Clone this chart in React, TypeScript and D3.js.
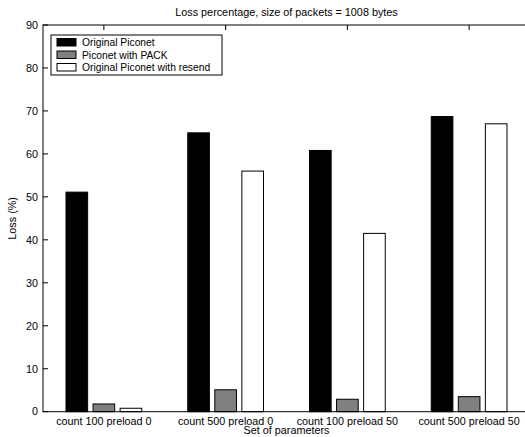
import React, { useEffect, useRef } from "react";
import * as d3 from "d3";

const categories = [
  "count 100 preload 0",
  "count 500 preload 0",
  "count 100 preload 50",
  "count 500 preload 50",
];
const seriesNames = [
  "Original Piconet",
  "Piconet with PACK",
  "Original Piconet with resend",
];
const seriesColors = ["#000000", "#808080", "#ffffff"];
const originalPiconet = [51.1, 64.9, 60.8, 68.7];
const piconetPack = [1.8, 5.1, 2.9, 3.5];
const piconetResend = [0.8, 56.0, 41.5, 67.0];
const yTicks = [0, 10, 20, 30, 40, 50, 60, 70, 80, 90];

const W = 525;
const H = 437;
const margin = { left: 43, top: 25, right: -5, bottom: 25 };

function App() {
  const svgRef = useRef<SVGSVGElement>(null);

  useEffect(() => {
    const svg = d3.select(svgRef.current);
    svg.selectAll("*").remove();
    const font = "Liberation Sans, Arial, sans-serif";
    const fs = 10.8;

    const x = d3
      .scaleLinear()
      .domain([0.5, 4.5])
      .range([margin.left, W - margin.right]);
    const y = d3
      .scaleLinear()
      .domain([0, 90])
      .range([H - margin.bottom - 0.3, margin.top]);

    const groupW = x(1 + 1 / 3) - x(1 - 1 / 3);
    const inner = d3
      .scaleBand<number>()
      .domain([0, 1, 2])
      .range([-groupW / 2, groupW / 2])
      .paddingInner(0.2)
      .paddingOuter(0.1);

    const series = [originalPiconet, piconetPack, piconetResend];

    // bars
    series.forEach((vals, s) => {
      svg
        .append("g")
        .selectAll("rect")
        .data(vals)
        .join("rect")
        .attr("x", (d, i) => x(i + 1) + (inner(s) as number))
        .attr("y", (d) => y(d))
        .attr("width", inner.bandwidth())
        .attr("height", (d) => y(0) - y(d))
        .attr("fill", seriesColors[s])
        .attr("stroke", "#000")
        .attr("stroke-width", 1);
    });

    // frame
    svg
      .append("rect")
      .attr("x", x(0.5))
      .attr("y", y(90))
      .attr("width", x(4.5) - x(0.5))
      .attr("height", y(0) - y(90))
      .attr("fill", "none")
      .attr("stroke", "#000")
      .attr("stroke-width", 1);

    // y ticks
    const yg = svg.append("g");
    yTicks.forEach((t) => {
      yg.append("line")
        .attr("x1", x(0.5))
        .attr("x2", x(0.5) + 5)
        .attr("y1", y(t))
        .attr("y2", y(t))
        .attr("stroke", "#000");
      yg.append("text")
        .attr("x", x(0.5) - 5)
        .attr("y", y(t))
        .attr("dy", "0.35em")
        .attr("text-anchor", "end")
        .attr("font-family", font)
        .attr("font-size", fs)
        .text(t);
    });

    // x ticks (top, inward) and labels
    categories.forEach((c, i) => {
      svg
        .append("line")
        .attr("x1", x(i + 1))
        .attr("x2", x(i + 1))
        .attr("y1", y(90))
        .attr("y2", y(90) + 5)
        .attr("stroke", "#000");
      svg
        .append("text")
        .attr("x", x(i + 1))
        .attr("y", y(0) + 13)
        .attr("text-anchor", "middle")
        .attr("font-family", font)
        .attr("font-size", fs)
        .text(c);
    });

    // axis titles
    svg
      .append("text")
      .attr("x", (x(0.5) + x(4.5)) / 2)
      .attr("y", 16)
      .attr("text-anchor", "middle")
      .attr("font-family", font)
      .attr("font-size", fs)
      .text("Loss percentage, size of packets = 1008 bytes");
    svg
      .append("text")
      .attr("x", (x(0.5) + x(4.5)) / 2)
      .attr("y", 434)
      .attr("text-anchor", "middle")
      .attr("font-family", font)
      .attr("font-size", fs)
      .text("Set of parameters");
    svg
      .append("text")
      .attr("transform", `translate(16, ${(y(0) + y(90)) / 2}) rotate(-90)`)
      .attr("text-anchor", "middle")
      .attr("font-family", font)
      .attr("font-size", fs)
      .text("Loss (%)");

    // legend
    const lg = svg.append("g").attr("transform", "translate(51, 35)");
    lg.append("rect")
      .attr("width", 171)
      .attr("height", 40)
      .attr("fill", "#fff")
      .attr("stroke", "#000");
    seriesNames.forEach((n, i) => {
      lg.append("rect")
        .attr("x", 6)
        .attr("y", 3.5 + i * 12.5)
        .attr("width", 19)
        .attr("height", 7.5)
        .attr("fill", seriesColors[i])
        .attr("stroke", "#000");
      lg.append("text")
        .attr("x", 31)
        .attr("y", 7.5 + i * 12.5)
        .attr("dy", "0.35em")
        .attr("font-family", font)
        .attr("font-size", 10.3)
        .text(n);
    });
  }, []);

  return (
    <div>
      <svg
        ref={svgRef}
        width={W}
        height={H}
        style={{ position: "absolute", left: 0, top: 0, background: "#fff" }}
      ></svg>
    </div>
  );
}

export default App;
